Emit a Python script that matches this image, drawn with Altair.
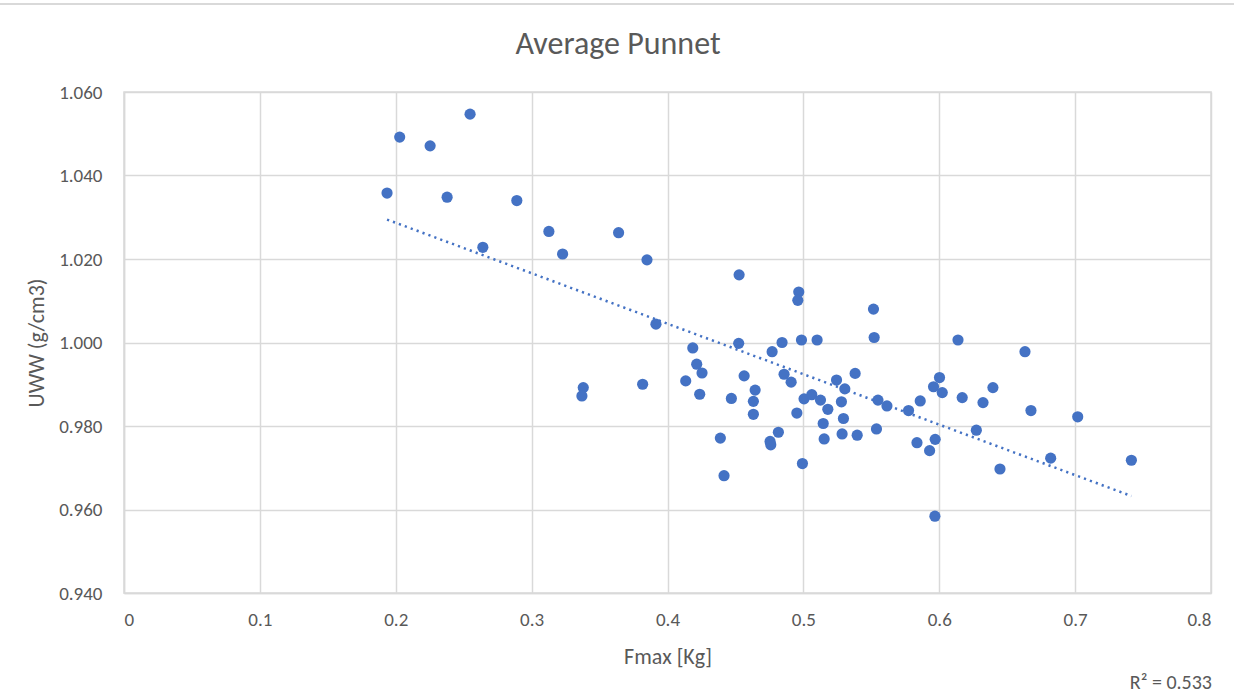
import altair as alt
import pandas as pd

# Maximum force per punnet (kg) and underwater weight density (g/cm3)
fmax = [
    0.1936, 0.2029, 0.2253, 0.2547, 0.2378, 0.2891, 0.2641, 0.3127, 0.3228,
    0.3640, 0.3849, 0.3915, 0.3380, 0.3370, 0.3817,
    0.4527, 0.4186, 0.4524, 0.4215, 0.4254, 0.4134, 0.4237, 0.4564, 0.4470,
    0.4645, 0.4632, 0.4632, 0.4389, 0.4416, 0.4770, 0.4843, 0.4986, 0.5101,
    0.4858, 0.4910, 0.5244, 0.5005, 0.5062, 0.5126, 0.5180, 0.4952, 0.5146,
    0.5153, 0.4816, 0.4755, 0.4760, 0.4993, 0.4966, 0.4959, 0.5516, 0.5521,
    0.5381, 0.5305, 0.5280, 0.5295, 0.5285, 0.5396,
    0.5549, 0.5615, 0.5538, 0.5774, 0.5860, 0.6002, 0.5958, 0.6022, 0.6169,
    0.5836, 0.5970, 0.5929, 0.6273, 0.6138, 0.6631, 0.6395, 0.6322, 0.6675,
    0.7019, 0.6820, 0.6447, 0.5968, 0.7414,
]
uww = [
    1.0358, 1.0492, 1.0471, 1.0547, 1.0348, 1.0340, 1.0228, 1.0266, 1.0212,
    1.0263, 1.0198, 1.0044, 0.9892, 0.9872, 0.9900,
    1.0162, 0.9987, 0.9998, 0.9948, 0.9927, 0.9908, 0.9876, 0.9920, 0.9866,
    0.9886, 0.9859, 0.9828, 0.9771, 0.9681, 0.9978, 1.0000, 1.0006, 1.0006,
    0.9924, 0.9905, 0.9910, 0.9865, 0.9875, 0.9862, 0.9840, 0.9831, 0.9806,
    0.9769, 0.9785, 0.9763, 0.9755, 0.9710, 1.0121, 1.0101, 1.0080, 1.0012,
    0.9926, 0.9889, 0.9858, 0.9818, 0.9781, 0.9778,
    0.9862, 0.9848, 0.9793, 0.9837, 0.9860, 0.9916, 0.9894, 0.9880, 0.9868,
    0.9760, 0.9768, 0.9741, 0.9790, 1.0006, 0.9978, 0.9892, 0.9856, 0.9837,
    0.9822, 0.9723, 0.9697, 0.9584, 0.9718,
]

x_ticks = [0, 0.1, 0.2, 0.3, 0.4, 0.5, 0.6, 0.7, 0.8]
y_ticks = [0.94, 0.96, 0.98, 1.00, 1.02, 1.04, 1.06]
chart_title = ["Average Punnet"]
r2_label = ["R² = 0.533"]

df = pd.DataFrame({"Fmax": fmax, "UWW": uww})

FONT = "Carlito, Lato"
GREY = "#595959"
GRID = "#d9d9d9"
BLUE = "#4472C4"
W, H = 1087, 501

x_enc = alt.X(
    "Fmax:Q",
    title="Fmax [Kg]",
    scale=alt.Scale(domain=[0, 0.8], nice=False, zero=False),
    axis=alt.Axis(values=x_ticks, format=".1~f", labelPadding=17,
                  titlePadding=17, tickSize=0),
)
y_enc = alt.Y(
    "UWW:Q",
    title="UWW (g/cm3)",
    scale=alt.Scale(domain=[0.94, 1.06], nice=False, zero=False),
    axis=alt.Axis(values=y_ticks, format=".3f", labelPadding=22,
                  titlePadding=10, tickSize=0),
)

points = alt.Chart(df).mark_circle(size=125, color=BLUE, opacity=1).encode(
    x=x_enc, y=y_enc
)

# least-squares trend line across the observed Fmax range
trend = (
    alt.Chart(df)
    .transform_regression("Fmax", "UWW")
    .mark_line(color=BLUE, strokeWidth=2.5, strokeDash=[2.2, 4.1], strokeCap="butt")
    .encode(x="Fmax:Q", y="UWW:Q")
)

title_text = (
    alt.Chart(pd.DataFrame({"label": chart_title}))
    .mark_text(align="center", baseline="middle", font=FONT, fontSize=32, color=GREY)
    .encode(text="label:N", x=alt.value(494), y=alt.value(-48))
)

r2 = (
    alt.Chart(pd.DataFrame({"label": r2_label}))
    .mark_text(align="right", baseline="middle", font=FONT, fontSize=20, color=GREY)
    .encode(text="label:N", x=alt.value(W + 1), y=alt.value(H + 90))
)

top_border = (
    alt.Chart(pd.DataFrame({"label": chart_title}))
    .mark_rule(color=GRID, strokeWidth=2)
    .encode(x=alt.value(-124), x2=alt.value(W + 23), y=alt.value(-88))
)

chart = (
    alt.layer(top_border, trend, points, title_text, r2)
    .properties(
        width=W,
        height=H,
        autosize=alt.AutoSizeParams(type="none"),
        padding={"left": 124, "top": 92, "right": 23, "bottom": 105},
        background="white",
    )
    .configure_view(stroke=GRID, strokeWidth=1.5)
    .configure_axis(
        labelFont=FONT,
        titleFont=FONT,
        labelFontSize=19,
        titleFontSize=22,
        labelColor=GREY,
        titleColor=GREY,
        titleFontWeight="normal",
        gridColor=GRID,
        gridWidth=1.5,
        domainColor=GRID,
        domainWidth=1.5,
    )
)

chart.save("out.html", embed_options={"renderer": "svg", "actions": False})
